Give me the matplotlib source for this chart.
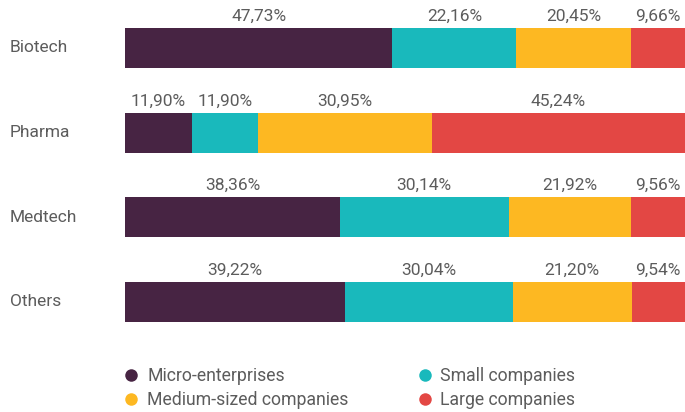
import matplotlib.pyplot as plt
import matplotlib.transforms as mtransforms
from matplotlib.lines import Line2D
import numpy as np

plt.rcParams['font.family'] = ['Roboto', 'DejaVu Sans']

sectors = ["Biotech", "Pharma", "Medtech", "Others"]
groups = ["Micro-enterprises", "Small companies", "Medium-sized companies", "Large companies"]
micro = [47.73, 11.90, 38.36, 39.22]
small = [22.16, 11.90, 30.14, 30.04]
medium = [20.45, 30.95, 21.92, 21.20]
large = [9.66, 45.24, 9.56, 9.54]

colors = ["#472443", "#19b9bc", "#fdb822", "#e34744"]
text_color = "#5c5c5c"

fig = plt.figure(figsize=(6.85, 4.12), dpi=100)
ax = fig.add_axes([125 / 685, 0, 560 / 685, 1])

y = np.arange(len(sectors))
bar_h = 0.47
left = np.zeros(len(sectors))
for vals, col in zip([micro, small, medium, large], colors):
    vals = np.array(vals)
    ax.barh(y, vals, left=left, height=bar_h, color=col, linewidth=0)
    for yi, l, v in zip(y, left, vals):
        ax.text(l + v / 2, yi - bar_h / 2 - 0.14, f"{v:.2f}%".replace(".", ","),
                ha="center", va="center", fontsize=12.5, color=text_color)
    left += vals

ax.set_xlim(0, 100)
ax.set_ylim(4.30, -0.567)
ax.axis("off")

# sector names at the left edge of the figure
trans = mtransforms.blended_transform_factory(fig.transFigure, ax.transData)
for yi, name in zip(y, sectors):
    ax.text(10 / 685, yi, name, transform=trans, ha="left", va="center",
            fontsize=12.5, color=text_color)

order = [0, 2, 1, 3]
handles = [Line2D([], [], marker="o", linestyle="", markersize=9,
                  markerfacecolor=colors[i], markeredgewidth=0) for i in order]
labels = [groups[i] for i in order]
fig.legend(handles, labels, ncol=2, loc="upper left", bbox_to_anchor=(112 / 685, 1 - 358 / 412),
           frameon=False, fontsize=12.7, labelcolor=text_color, handletextpad=0.3,
           columnspacing=3.7, labelspacing=0.35, handlelength=1.2, borderpad=0)

fig.savefig("out.png", dpi=100)
